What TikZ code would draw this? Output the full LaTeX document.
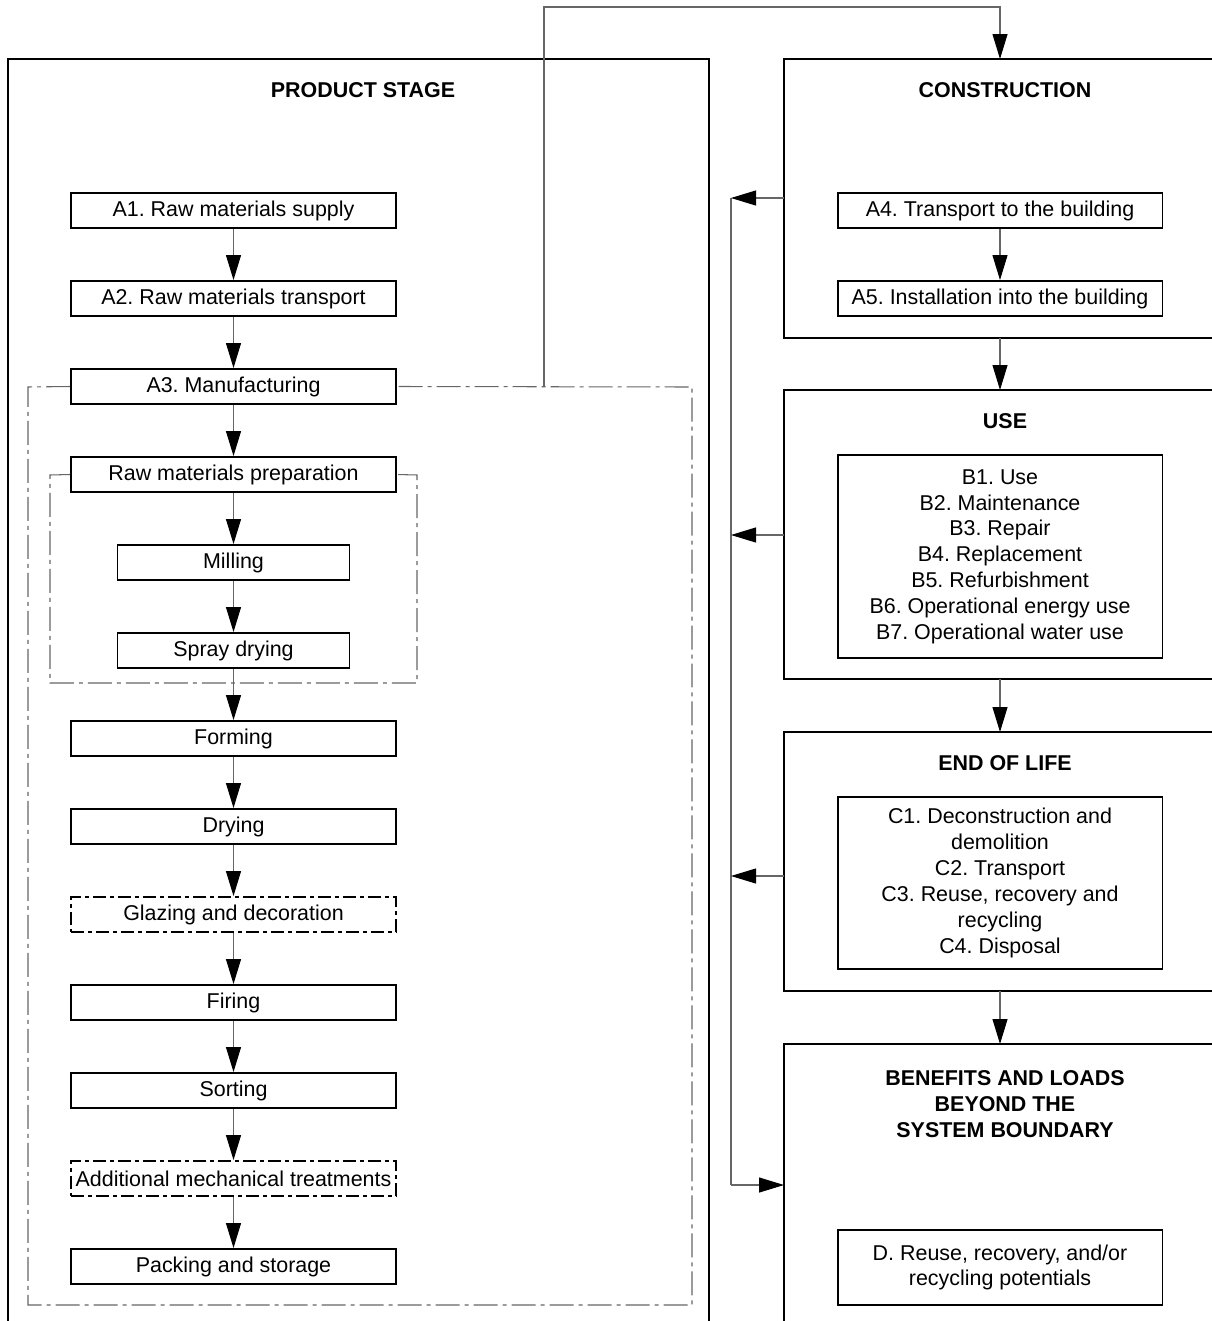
\documentclass[tikz,border=0pt]{standalone}
\usepackage{fontspec}
\setmainfont{Liberation Sans}
\usetikzlibrary{arrows.meta}
\frenchspacing

\tikzset{
  box/.style={draw, line width=1.1pt, minimum width=6.5cm, minimum height=0.7cm, inner sep=0pt},
  smallbox/.style={box, minimum width=4.64cm},
  dotbox/.style={box, dash pattern=on 0.26cm off 0.08cm on 0.08cm off 0.08cm},
  frame/.style={line width=1.1pt},
  title/.style={font=\fontsize{12.2}{14.7}\selectfont\bfseries, align=center},
  link/.style={gray!80!black, line width=0.6pt},
  arr/.style={link, -{Triangle[length=0.5cm, width=0.3cm, color=black]}},
  group/.style={link, dash pattern=on 0.48cm off 0.1cm on 0.08cm off 0.1cm}
}

\begin{document}
\begin{tikzpicture}[x=0.02cm, y=-0.02cm, font=\fontsize{12.2}{14.7}\selectfont]
  \useasboundingbox (0,0) rectangle (1211,1321);

  % stage frames
  \draw[frame] (8,1340) -- (8,59) -- (709,59) -- (709,1340);
  \draw[frame] (1230,59) -- (784,59) -- (784,338) -- (1230,338);
  \draw[frame] (1230,390) -- (784,390) -- (784,679) -- (1230,679);
  \draw[frame] (1230,732) -- (784,732) -- (784,991) -- (1230,991);
  \draw[frame] (1230,1044) -- (784,1044) -- (784,1340);

  \node[title] (t-prod) at (363,90) {PRODUCT STAGE};
  \node[title] (t-cons) at (1005,90) {CONSTRUCTION};
  \node[title] (t-use) at (1005,421) {USE};
  \node[title] (t-eol) at (1005,763) {END OF LIFE};
  \node[title] (t-ben) at (1005,1104) {BENEFITS AND LOADS\\BEYOND THE\\SYSTEM BOUNDARY};

  % product stage
  \node[box] (a1) at (233.5,210.5) {A1. Raw materials supply};
  \node[box] (a2) at (233.5,298.5) {A2. Raw materials transport};
  \node[box] (a3) at (233.5,386.5) {A3. Manufacturing};
  \node[box] (prep) at (233.5,474.5) {Raw materials preparation};
  \node[smallbox] (mill) at (233.5,562.5) {Milling};
  \node[smallbox] (spray) at (233.5,650.5) {Spray drying};
  \node[box] (form) at (233.5,738.5) {Forming};
  \node[box] (dry) at (233.5,826.5) {Drying};
  \node[dotbox] (glaze) at (233.5,914.5) {Glazing and decoration};
  \node[box] (fire) at (233.5,1002.5) {Firing};
  \node[box] (sort) at (233.5,1090.5) {Sorting};
  \node[dotbox] (add) at (233.5,1178.5) {Additional mechanical treatments};
  \node[box] (pack) at (233.5,1266.5) {Packing and storage};

  \foreach \a/\b in {a1/a2,a2/a3,a3/prep,prep/mill,mill/spray,spray/form,form/dry,
                     dry/glaze,glaze/fire,fire/sort,sort/add,add/pack} {
    \draw[arr] (\a) -- (\b);
  }

  % manufacturing groups
  \draw[group] (a3.west) -- (28,387) -- (28,1305) -- (692,1305) -- (692,387) -- (a3.east);
  \draw[group] (prep.west) -- (50,475) -- (50,683) -- (417,683) -- (417,475) -- (prep.east);

  % construction
  \node[box] (a4) at (1000,210.5) {A4. Transport to the building};
  \node[box] (a5) at (1000,298.5) {A5. Installation into the building};
  \draw[arr] (a4) -- (a5);

  \coordinate (up) at (544,387);
  \coordinate (cons-t) at (1000,59);
  \draw[arr] (up) -- (544,7) -| (cons-t);

  % use and end of life
  \node[box, minimum height=4.06cm, align=center] (use) at (1000,556.5)
    {B1. Use\\B2. Maintenance\\B3. Repair\\B4. Replacement\\B5. Refurbishment\\
     B6. Operational energy use\\B7. Operational water use};
  \node[box, minimum height=3.44cm, align=center] (eol) at (1000,883)
    {C1. Deconstruction and\\demolition\\C2. Transport\\C3. Reuse, recovery and\\
     recycling\\C4. Disposal};
  \node[box, minimum height=1.5cm, align=center] (d) at (1000,1267.5)
    {D. Reuse, recovery, and/or\\recycling potentials};

  \coordinate (cons-b) at (1000,338);
  \coordinate (use-t) at (1000,390);
  \coordinate (use-b) at (1000,679);
  \coordinate (eol-t) at (1000,732);
  \coordinate (eol-b) at (1000,991);
  \coordinate (ben-t) at (1000,1044);
  \draw[arr] (cons-b) -- (use-t);
  \draw[arr] (use-b) -- (eol-t);
  \draw[arr] (eol-b) -- (ben-t);

  % return line
  \coordinate (cons-l) at (784,198);
  \coordinate (use-l) at (784,535);
  \coordinate (eol-l) at (784,876);
  \coordinate (ben-l) at (784,1185);
  \coordinate (bus1) at (731,198);
  \coordinate (bus2) at (731,535);
  \coordinate (bus3) at (731,876);
  \coordinate (bus4) at (731,1185);
  \draw[link] (bus1) -- (bus4);
  \draw[arr] (cons-l) -- (bus1);
  \draw[arr] (use-l) -- (bus2);
  \draw[arr] (eol-l) -- (bus3);
  \draw[arr] (bus4) -- (ben-l);
\end{tikzpicture}
\end{document}
